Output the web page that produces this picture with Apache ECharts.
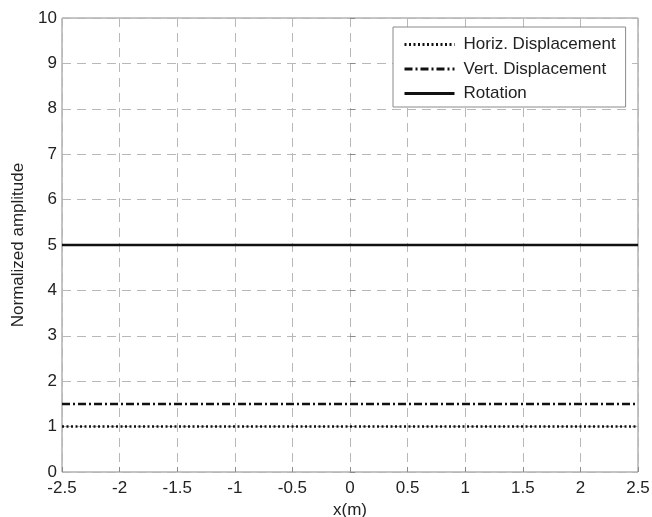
<!DOCTYPE html>
<html>
<head>
<meta charset="utf-8">
<script src="https://cdn.jsdelivr.net/npm/echarts@6/dist/echarts.min.js"></script>
<style>html,body{margin:0;padding:0;background:#fff;}#c{width:652px;height:517px;}</style>
</head>
<body>
<div id="c"></div>
<script>
const xValues = [-2.5, 2.5];
const horizDisp = [1, 1];
const vertDisp = [1.5, 1.5];
const rotation = [5, 5];
const seriesNames = ['Horiz. Displacement', 'Vert. Displacement', 'Rotation'];

const font = 'Liberation Sans, Arial, sans-serif';
const gridLine = {show: true, lineStyle: {color: '#b8b8b8', type: [9, 6], width: 1}};
const chart = echarts.init(document.getElementById('c'));
function pairs(ys) { return xValues.map((x, i) => [x, ys[i]]); }
chart.setOption({
  animation: false,
  color: ['#111', '#111', '#111'],
  grid: {left: 62, right: 14, top: 18, bottom: 45, outerBoundsMode: 'none', containLabel: false,
         show: true, borderColor: '#8a8a8a', borderWidth: 1, backgroundColor: 'transparent'},
  xAxis: {
    type: 'value', min: -2.5, max: 2.5, interval: 0.5,
    name: 'x(m)', nameLocation: 'middle', nameGap: 27,
    nameTextStyle: {fontFamily: font, fontSize: 17, color: '#222'},
    axisLine: {show: false},
    axisTick: {show: true, inside: true, length: 5, lineStyle: {color: '#8a8a8a'}},
    axisLabel: {fontFamily: font, fontSize: 17, color: '#222', margin: 8},
    splitLine: gridLine
  },
  yAxis: {
    type: 'value', min: 0, max: 10, interval: 1,
    name: 'Normalized amplitude', nameLocation: 'middle', nameGap: 35,
    nameTextStyle: {fontFamily: font, fontSize: 17, color: '#222'},
    axisLine: {show: false},
    axisTick: {show: true, inside: true, length: 5, lineStyle: {color: '#8a8a8a'}},
    axisLabel: {fontFamily: font, fontSize: 17, color: '#222', margin: 5},
    splitLine: gridLine
  },
  legend: {
    orient: 'vertical', left: 393, top: 27,
    padding: [9, 10, 5, 10], itemGap: 7.5, itemWidth: 50, itemHeight: 15,
    backgroundColor: '#fff', borderColor: '#8a8a8a', borderWidth: 1,
    itemStyle: {opacity: 0},
    lineStyle: {width: 3},
    textStyle: {fontFamily: font, fontSize: 17, color: '#222', lineHeight: 15, padding: [0, 0, 0, 4]},
    data: seriesNames
  },
  series: [
    {name: seriesNames[0], type: 'line', data: pairs(horizDisp), symbol: 'none',
     lineStyle: {color: '#111', width: 2.5, type: [2, 2.5]}},
    {name: seriesNames[1], type: 'line', data: pairs(vertDisp), symbol: 'none',
     lineStyle: {color: '#111', width: 2.5, type: [8, 3, 2, 3]}},
    {name: seriesNames[2], type: 'line', data: pairs(rotation), symbol: 'none',
     lineStyle: {color: '#111', width: 2.5, type: 'solid'}}
  ]
});
</script>
</body>
</html>
